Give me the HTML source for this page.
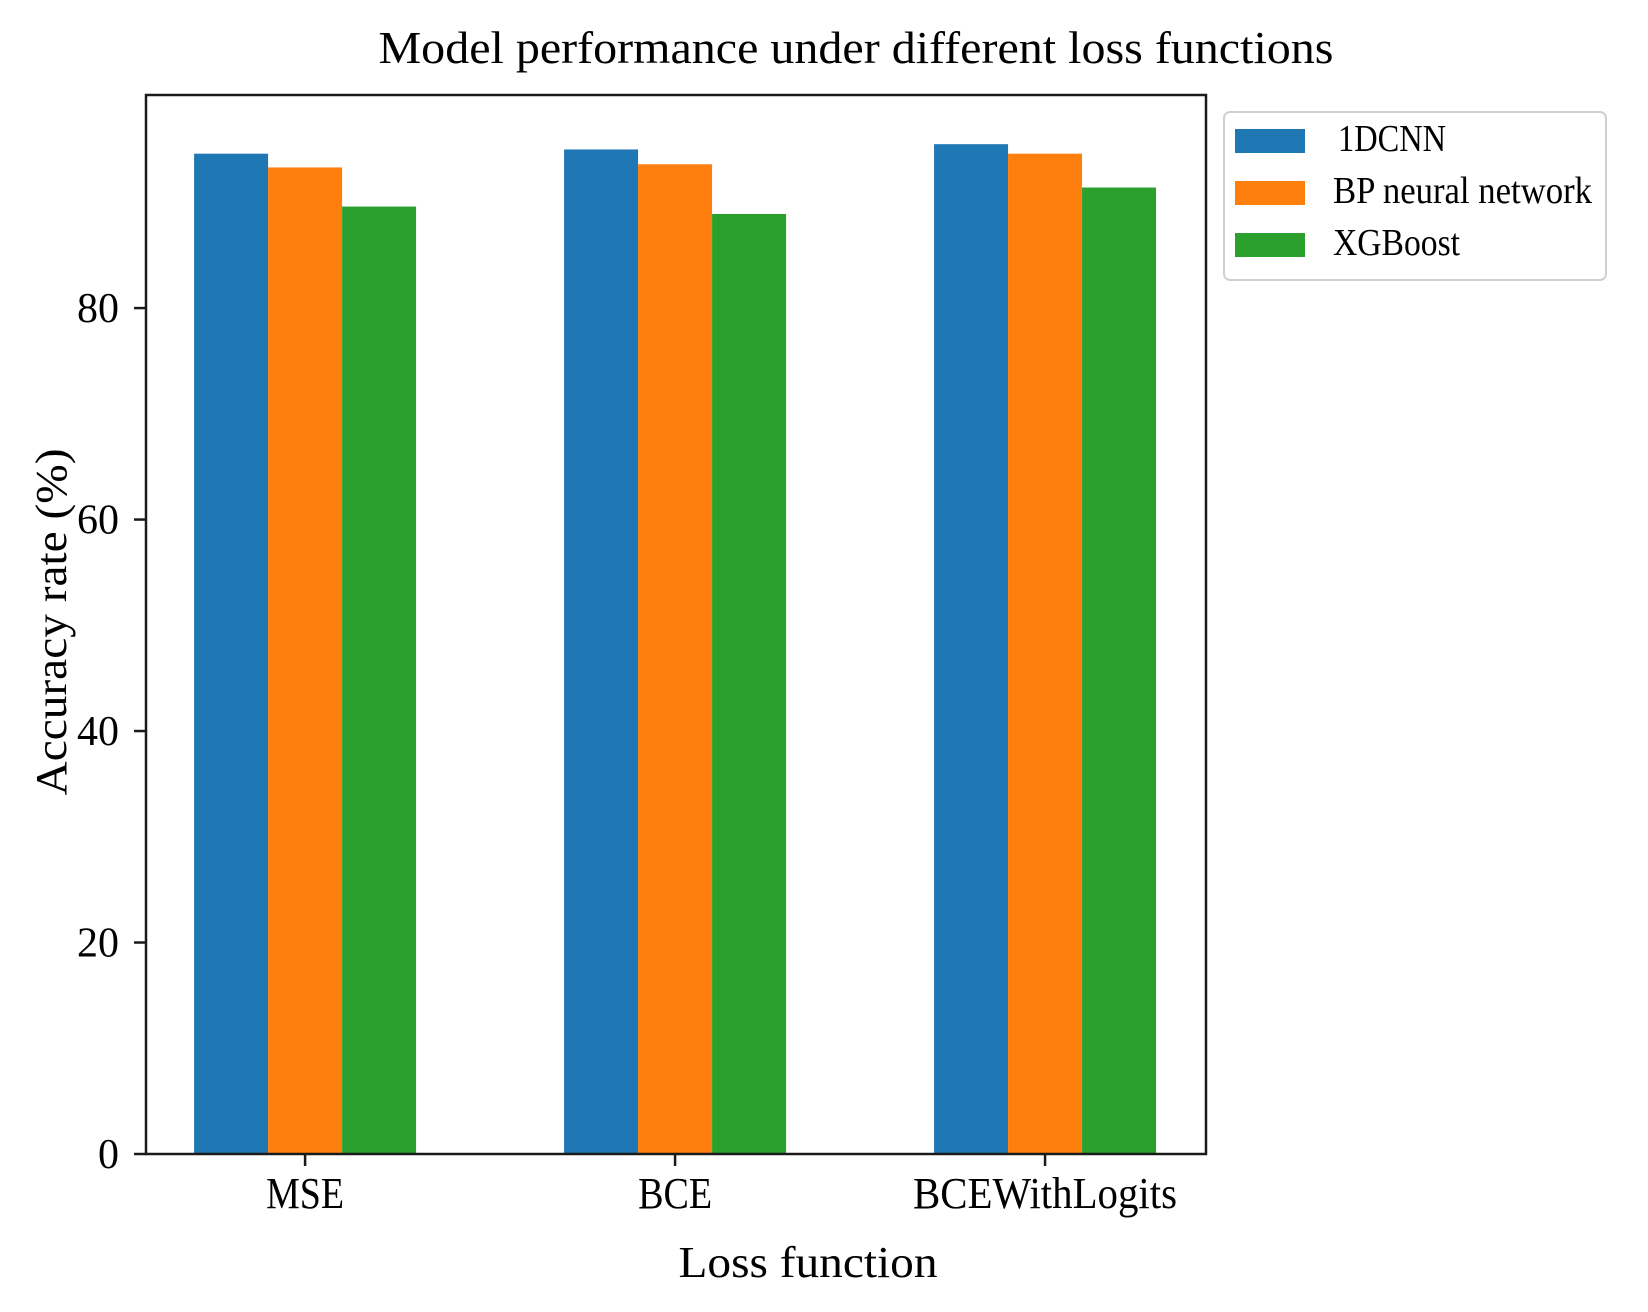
<!DOCTYPE html>
<html><head><meta charset="utf-8"><style>
html,body{margin:0;padding:0;background:#fff;}
svg{display:block;font-family:"Liberation Serif",serif;}
</style></head><body>
<svg id="chart" width="1648" height="1312" viewBox="0 0 1648 1312">
<text x="856" y="63" font-size="46" text-anchor="middle" textLength="955" lengthAdjust="spacingAndGlyphs">Model performance under different loss functions</text>
<g id="bars"></g>
<g id="axes"></g>
<text transform="translate(66,622) rotate(-90)" font-size="44" text-anchor="middle" textLength="347" lengthAdjust="spacingAndGlyphs">Accuracy rate (%)</text>
<text x="808" y="1277" font-size="44" text-anchor="middle" textLength="259" lengthAdjust="spacingAndGlyphs">Loss function</text>
<g>
<rect x="1224" y="112" width="382" height="168" rx="6" fill="#fff" stroke="#d0d0d0" stroke-width="2"/>
<g><rect x="1235" y="129" width="70" height="24" fill="#1f77b4"/><text x="1338" y="151" font-size="38" textLength="108" lengthAdjust="spacingAndGlyphs">1DCNN</text></g>
<g><rect x="1235" y="181" width="70" height="24" fill="#ff7f0e"/><text x="1333" y="203" font-size="38" textLength="259" lengthAdjust="spacingAndGlyphs">BP neural network</text></g>
<g><rect x="1235" y="233" width="70" height="24" fill="#2ca02c"/><text x="1333" y="255" font-size="38" textLength="127" lengthAdjust="spacingAndGlyphs">XGBoost</text></g>
</g>
</svg>
<script>
const categories = ["MSE", "BCE", "BCEWithLogits"];
const seriesNames = ["1DCNN", "BP neural network", "XGBoost"];
const cnnValues = [94.6, 95.0, 95.5];
const bpValues = [93.3, 93.6, 94.6];
const xgbValues = [89.6, 88.9, 91.4];
const yTicks = [0, 20, 40, 60, 80];
const tickLabelWidths = { "MSE": 78, "BCE": 74, "BCEWithLogits": 264 };

const NS = "http://www.w3.org/2000/svg";
const L = 146, R = 1206, T = 95, B = 1154;
const xMin = -0.43, xMax = 2.435, yMax = 100.15;
function xs(v){ return L + (v - xMin) / (xMax - xMin) * (R - L); }
function ys(v){ return B - v / yMax * (B - T); }
function mk(tag, attrs, parent){ const e = document.createElementNS(NS, tag); for (const k in attrs) e.setAttribute(k, attrs[k]); parent.appendChild(e); return e; }

const bars = document.getElementById("bars");
const axes = document.getElementById("axes");
const series = [cnnValues, bpValues, xgbValues];
const colors = ["#1f77b4", "#ff7f0e", "#2ca02c"];
const keys = ["1dcnn", "bp", "xgboost"];
const w = 0.2;
series.forEach((vals, s) => {
  vals.forEach((v, i) => {
    const x0 = xs(i + (s - 1) * w - w / 2), x1 = xs(i + (s - 1) * w + w / 2);
    const r = mk("rect", { x: x0, y: ys(v), width: x1 - x0, height: ys(0) - ys(v), fill: colors[s] }, bars);
    
    
  });
});

mk("rect", { x: L, y: T, width: R - L, height: B - T, fill: "none", stroke: "#1a1a1a", "stroke-width": 2.5 }, axes);
yTicks.forEach(t => {
  const y = ys(t);
  mk("line", { x1: L - 12, x2: L, y1: y, y2: y, stroke: "#1a1a1a", "stroke-width": 2.5 }, axes);
  const tx = mk("text", { x: 119, y: y + 14, "font-size": 42, "text-anchor": "end" }, axes);
  tx.textContent = t;
  
  
});
categories.forEach((c, i) => {
  const x = xs(i);
  mk("line", { x1: x, x2: x, y1: B, y2: B + 12, stroke: "#1a1a1a", "stroke-width": 2.5 }, axes);
  const tx = mk("text", { x: x, y: 1208, "font-size": 44, "text-anchor": "middle", textLength: tickLabelWidths[c], lengthAdjust: "spacingAndGlyphs" }, axes);
  tx.textContent = c;
  
  
});
</script>
</body></html>
